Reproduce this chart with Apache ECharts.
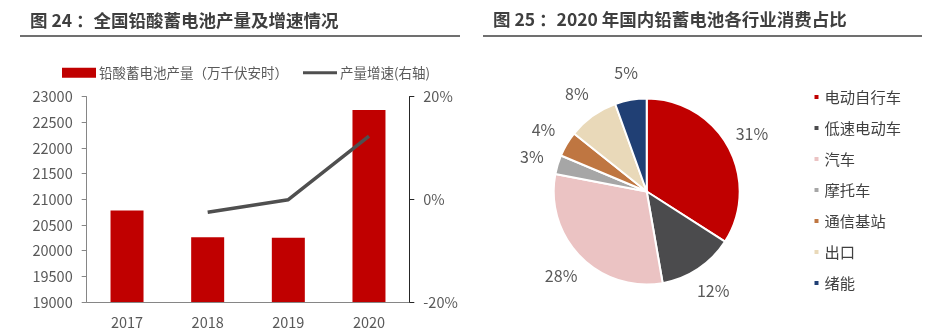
<!DOCTYPE html>
<html>
<head>
<meta charset="utf-8">
<script src="https://cdn.jsdelivr.net/npm/echarts@6/dist/echarts.min.js"></script>
<style>
html,body{margin:0;padding:0;background:#fff;}
#c{width:925px;height:334px;}
</style>
</head>
<body>
<div id="c"></div>
<script>
// ---- data ----
const years = ['2017', '2018', '2019', '2020'];
const output = [20783, 20264, 20251, 22741];           // 万千伏安时
const growth = [null, -2.5, -0.06, 12.3];              // %
const barName = '铅酸蓄电池产量（万千伏安时）';
const lineName = '产量增速(右轴)';
const leftTicks = { min: 19000, max: 23000, interval: 500 };
const rightTicks = { min: -20, max: 20, interval: 20 };

const pieNames = ['电动自行车', '低速电动车', '汽车', '摩托车', '通信基站', '出口', '绪能'];
const pieValues = [31, 12, 28, 3, 4, 8, 5];
const pieColors = ['#C00000', '#4B4B4D', '#EBC3C3', '#A6A6A6', '#BF7641', '#E9D9B9', '#203F74'];

const title1 = '图 24 ：全国铅酸蓄电池产量及增速情况';
const title2 = '图 25 ：2020 年国内铅蓄电池各行业消费占比';

// ---- chart ----
const FONT = '"Noto Sans CJK SC", "Noto Sans", sans-serif';
const txt = '#595959';
const chart = echarts.init(document.getElementById('c'));

const pieCenter = [646.7, 191.5];
const pieR = 93;
const labelR = 120;
const pieTotal = pieValues.reduce((a, b) => a + b, 0);

option = {
  animation: false,
  textStyle: { fontFamily: FONT },
  graphic: [
    { type: 'text', left: 30, top: 12, style: { text: title1, font: 'bold 17.5px ' + FONT, fill: '#3F3F3F' } },
    { type: 'line', shape: { x1: 20, y1: 36, x2: 460, y2: 36 }, style: { stroke: '#404040', lineWidth: 1.6 } },
    { type: 'text', left: 493, top: 11, style: { text: title2, font: 'bold 17.5px ' + FONT, fill: '#3F3F3F' } },
    { type: 'line', shape: { x1: 483, y1: 36, x2: 922, y2: 36 }, style: { stroke: '#404040', lineWidth: 1.6 } }
  ],
  legend: [
    {
      data: [
        { name: barName, icon: 'rect' },
        { name: lineName, icon: 'path://M0,0L34,0L34,3.2L0,3.2Z', itemStyle: { color: '#4F4F4F' } }
      ],
      left: 62, top: 66, padding: 0,
      itemWidth: 34, itemHeight: 10, itemGap: 15,
      textStyle: { color: txt, fontSize: 13.5, fontFamily: FONT, padding: [0, 0, 0, -2] }
    },
    {
      data: pieNames,
      orient: 'vertical',
      left: 812.5, top: 87, padding: 0,
      icon: 'rect',
      itemWidth: 6, itemHeight: 6, itemGap: 11,
      textStyle: { color: '#404040', fontSize: 15.3, lineHeight: 20, fontFamily: FONT }
    }
  ],
  grid: { left: 86.7, right: 515.7, top: 96.7, bottom: 32, containLabel: false },
  xAxis: {
    type: 'category',
    data: years,
    axisLine: { onZero: false, lineStyle: { color: '#868686', width: 1 } },
    axisTick: { show: false },
    axisLabel: { color: txt, fontSize: 14.5, margin: 13 }
  },
  yAxis: [
    {
      type: 'value', min: leftTicks.min, max: leftTicks.max, interval: leftTicks.interval,
      splitLine: { show: false },
      axisLine: { show: true, lineStyle: { color: '#868686' } },
      axisTick: { show: true, length: 5, lineStyle: { color: '#868686' } },
      axisLabel: { color: txt, fontSize: 14.5, margin: 14, formatter: v => String(v) }
    },
    {
      type: 'value', min: rightTicks.min, max: rightTicks.max, interval: rightTicks.interval,
      position: 'right',
      splitLine: { show: false },
      axisLine: { show: true, onZero: false, lineStyle: { color: '#262626' } },
      axisTick: { show: true, length: 5, lineStyle: { color: '#262626' } },
      axisLabel: { color: txt, fontSize: 14.5, margin: 14, formatter: '{value}%' }
    }
  ],
  series: [
    {
      name: barName, type: 'bar', data: output, barWidth: 33,
      itemStyle: { color: '#C00000' }
    },
    {
      name: lineName, type: 'line', yAxisIndex: 1, data: growth,
      symbol: 'none', connectNulls: false,
      lineStyle: { color: '#4F4F4F', width: 3.5 },
      itemStyle: { color: '#4F4F4F' }
    },
    {
      name: 'pie', type: 'pie',
      center: pieCenter, radius: pieR, startAngle: 90, clockwise: true,
      data: pieNames.map((n, i) => ({ name: n, value: pieValues[i], itemStyle: { color: pieColors[i] } })),
      itemStyle: { borderColor: '#fff', borderWidth: 2 },
      label: { show: true, position: 'outside', formatter: '{c}%', color: txt, fontSize: 16, fontFamily: FONT },
      labelLine: { show: false },
      labelLayout: function (p) {
        const i = p.dataIndex;
        let cum = 0;
        for (let k = 0; k < i; k++) cum += pieValues[k];
        const a = (cum + pieValues[i] / 2) / pieTotal * 2 * Math.PI;
        return {
          x: pieCenter[0] + labelR * Math.sin(a),
          y: pieCenter[1] - labelR * Math.cos(a),
          align: 'center', verticalAlign: 'middle'
        };
      },
      emphasis: { disabled: true }
    }
  ]
};
chart.setOption(option);
</script>
</body>
</html>
